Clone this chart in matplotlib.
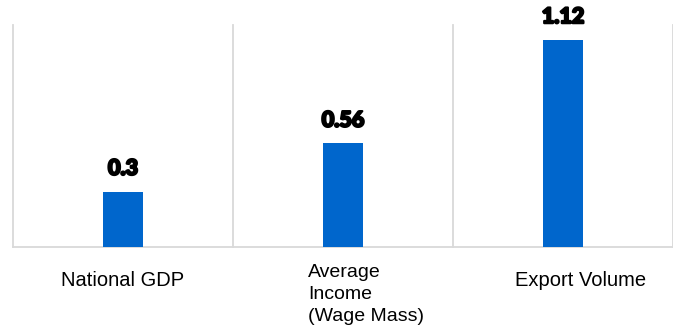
import matplotlib.pyplot as plt
plt.switch_backend('agg')
import matplotlib.patheffects as pe
import numpy as np

# categories and their values
categories = ['National GDP', 'Average\nIncome\n(Wage Mass)', 'Export Volume']
values = [0.3, 0.56, 1.12]
valueLabels = ['0.3', '0.56', '1.12']

fig = plt.figure(figsize=(6.73, 3.33), dpi=100)
ax = fig.add_axes([13/673, 86/333, 660/673, 222/333])

pos = np.arange(len(categories))
ax.bar(pos, values, 0.185, color='#0066CC', zorder=3)

# value labels above the bars
for x, v, s in zip(pos, values, valueLabels):
    ax.text(x, v + 0.09, s, ha='center', va='baseline', fontsize=15.5,
            family='Lato', weight='black', color='black',
            path_effects=[pe.withStroke(linewidth=1.6, foreground='black')])

# vertical separators between categories
for b in np.arange(-0.5, len(categories), 1.0):
    ax.axvline(b, color='#d9d9d9', linewidth=1.3, zorder=1, clip_on=False)

# category labels, placed by hand like the original (Excel offsets them a bit)
trans = ax.get_xaxis_transform()
ax.text(0, -0.107, categories[0], ha='center', va='top', fontsize=14.5,
        family='Liberation Sans', transform=trans)
ax.text(0.841, -0.077, categories[1], ha='left', va='top', fontsize=14,
        family='Liberation Sans', linespacing=1.4, multialignment='left',
        transform=trans)
ax.text(2.082, -0.107, categories[2], ha='center', va='top', fontsize=14.5,
        family='Liberation Sans', transform=trans)

ax.set_xlim(-0.5, len(categories) - 0.5)
ax.set_ylim(0, 1.2)
ax.set_xticks([])
ax.set_yticks([])
for side in ['top', 'right', 'left']:
    ax.spines[side].set_visible(False)
ax.spines['bottom'].set_color('#d9d9d9')
ax.spines['bottom'].set_linewidth(1.3)

plt.savefig('out.png', dpi=100)
